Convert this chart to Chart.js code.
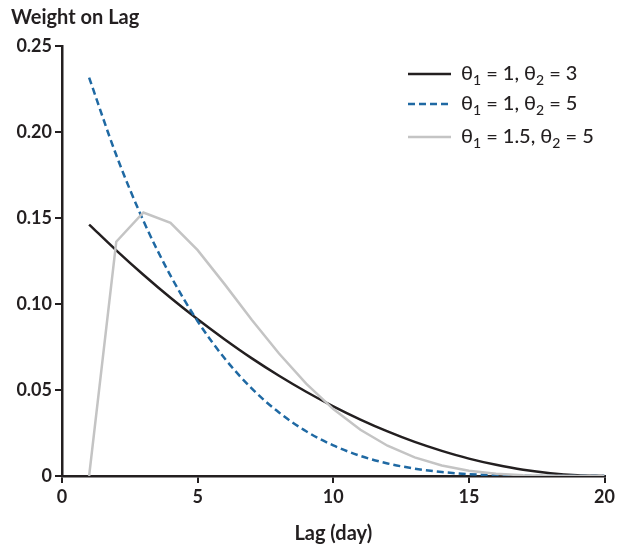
<!DOCTYPE html>
<html lang="en">
<head>
    <meta charset="UTF-8">
    <title>Weight on Lag</title>
    <script src="https://cdn.jsdelivr.net/npm/chart.js"></script>
    <style>
        body { margin: 0; background: #fff; }
        #wrap { width: 618px; height: 548px; }
    </style>
</head>
<body>
    <div id="wrap"><canvas id="lagChart"></canvas></div>

    <script>
        // lags 1..20 and the weight each scheme puts on them
        const lags = [1, 2, 3, 4, 5, 6, 7, 8, 9, 10, 11, 12, 13, 14, 15, 16, 17, 18, 19, 20];
        const weights13 = [0.1462, 0.1312, 0.1170, 0.1036, 0.0911, 0.0794, 0.0684, 0.0583, 0.0490, 0.0405,
                           0.0328, 0.0259, 0.0198, 0.0146, 0.0101, 0.0065, 0.0036, 0.0016, 0.0004, 0];
        const weights15 = [0.2316, 0.1866, 0.1484, 0.1165, 0.0900, 0.0683, 0.0508, 0.0369, 0.0260, 0.0178,
                           0.0117, 0.0073, 0.0043, 0.0023, 0.0011, 0.0005, 0.0001, 0, 0, 0];
        const weights155 = [0, 0.1362, 0.1532, 0.1472, 0.1313, 0.1114, 0.0907, 0.0712, 0.0537, 0.0389,
                            0.0269, 0.0176, 0.0108, 0.0061, 0.0030, 0.0013, 0.0004, 0.0001, 0, 0];
        const xTicks = [0, 5, 10, 15, 20];
        const yTicks = [0, 0.05, 0.10, 0.15, 0.20, 0.25];

        // legend entries: [theta1, theta2]
        const legendItems = [
            { t1: '1', t2: '3', color: '#231f20', dash: [] },
            { t1: '1', t2: '5', color: '#1f69a3', dash: [7, 4] },
            { t1: '1.5', t2: '5', color: '#c4c4c4', dash: [] }
        ];

        const FONT = 'Lato, "Open Sans", sans-serif';
        const toPoints = arr => lags.map((l, i) => ({ x: l, y: arr[i] }));

        // axis title at top-left and the legend with subscripts
        const extras = {
            id: 'extras',
            afterDraw(chart) {
                const c = chart.ctx;
                c.save();
                c.fillStyle = '#231f20';
                c.font = 'bold 20px ' + FONT;
                c.textAlign = 'left';
                c.textBaseline = 'middle';
                c.fillText('Weight on Lag', 11, 18);

                const rows = [74, 104, 137];
                legendItems.forEach((it, i) => {
                    const y = rows[i];
                    c.strokeStyle = it.color;
                    c.lineWidth = 2.5;
                    c.setLineDash(it.dash);
                    c.beginPath();
                    c.moveTo(408, y);
                    c.lineTo(451, y);
                    c.stroke();
                    c.setLineDash([]);

                    let x = 461;
                    const big = '500 20px ' + FONT, small = '500 14px ' + FONT;
                    const parts = [
                        ['θ', big, 0], ['1', small, 6], [' = ' + it.t1 + ', ', big, 0],
                        ['θ', big, 0], ['2', small, 6], [' = ' + it.t2, big, 0]
                    ];
                    parts.forEach(([txt, f, dy]) => {
                        c.font = f;
                        c.fillText(txt, x, y + dy);
                        x += c.measureText(txt).width;
                    });
                });
                c.restore();
            }
        };

        new Chart(document.getElementById('lagChart'), {
            type: 'line',
            data: {
                datasets: [
                    {
                        label: 'θ1 = 1.5, θ2 = 5',
                        data: toPoints(weights155),
                        borderColor: '#c4c4c4',
                        borderWidth: 2.5,
                        pointRadius: 0,
                        tension: 0
                    },
                    {
                        label: 'θ1 = 1, θ2 = 5',
                        data: toPoints(weights15),
                        borderColor: '#1f69a3',
                        borderWidth: 2.5,
                        borderDash: [7, 4],
                        pointRadius: 0,
                        cubicInterpolationMode: 'monotone'
                    },
                    {
                        label: 'θ1 = 1, θ2 = 3',
                        data: toPoints(weights13),
                        borderColor: '#231f20',
                        borderWidth: 2.5,
                        pointRadius: 0,
                        cubicInterpolationMode: 'monotone'
                    }
                ]
            },
            options: {
                responsive: true,
                maintainAspectRatio: false,
                animation: false,
                layout: { padding: { top: 46, right: 12, left: 0, bottom: 0 } },
                plugins: {
                    legend: { display: false },
                    tooltip: { enabled: false }
                },
                scales: {
                    x: {
                        type: 'linear',
                        min: 0,
                        max: 20,
                        afterBuildTicks: s => { s.ticks = xTicks.map(v => ({ value: v })); },
                        afterFit: s => { s.height = 72; },
                        border: { display: true, color: '#231f20', width: 2.5 },
                        grid: { drawOnChartArea: false, drawTicks: true, tickLength: 7, color: '#231f20', lineWidth: 2 },
                        ticks: { color: '#231f20', font: { family: FONT, size: 18, weight: 'bold' }, padding: 3 },
                        title: {
                            display: true,
                            text: 'Lag (day)',
                            color: '#231f20',
                            font: { family: FONT, size: 20, weight: 'bold' },
                            padding: { top: 0, bottom: 2 }
                        }
                    },
                    y: {
                        min: 0,
                        max: 0.25,
                        afterBuildTicks: s => { s.ticks = yTicks.map(v => ({ value: v })); },
                        afterFit: s => { s.width = 62; },
                        border: { display: true, color: '#231f20', width: 2.5 },
                        grid: { drawOnChartArea: false, drawTicks: true, tickLength: 7, color: '#231f20', lineWidth: 2 },
                        ticks: {
                            color: '#231f20',
                            font: { family: FONT, size: 18, weight: 'bold' },
                            padding: 3,
                            callback: v => v === 0 ? '0' : v.toFixed(2)
                        }
                    }
                }
            },
            plugins: [extras]
        });
    </script>
</body>
</html>
